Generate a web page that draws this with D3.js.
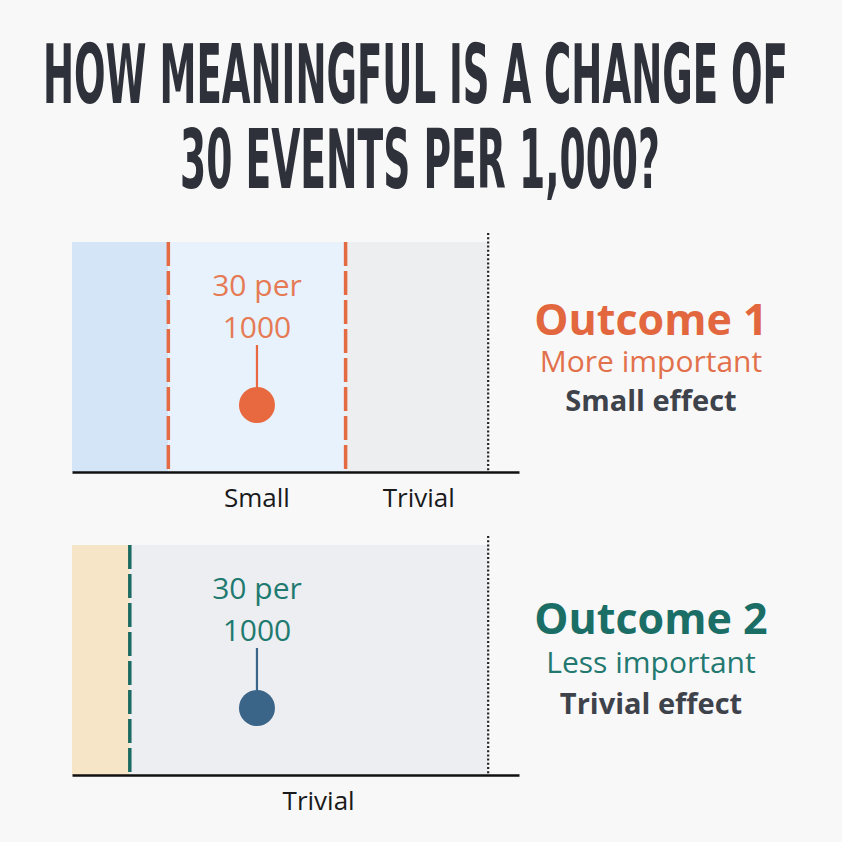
<!DOCTYPE html>
<html>
<head>
<meta charset="utf-8">
<script src="https://cdn.jsdelivr.net/npm/d3@7"></script>
<style>
html,body{margin:0;padding:0;background:#f8f8f9;}
svg{display:block;}
</style>
</head>
<body>
<div id="chart"></div>
<script>
// ---- data ----
const titleLines = ["HOW MEANINGFUL IS A CHANGE OF", "30 EVENTS PER 1,000?"];
const outcomes = ["Outcome 1", "Outcome 2"];
const importance = ["More important", "Less important"];
const effectLabels = ["Small effect", "Trivial effect"];
const estimates = [30, 30];                 // events per 1,000
const pointLabel = ["30 per", "1000"];
// zone boundaries (events per 1,000), from left (large) to right (0)
const zoneBreaks = [[54, 41.5, 18.5, 0], [54, 46.5, 0]];
const zoneNames = [["", "Small", "Trivial"], ["", "Trivial"]];
const zoneLabelAt = [[null, 30, 9], [null, 22]];
const domainX = [54, -4];

// ---- styles ----
const W = 842, H = 842;
const palettes = [
  {zones: ["#d3e5f6", "#e8f2fc", "#edeef0"], dash: "#e46a44", dot: "#e8693f", text: "#e57a55", head: "#e2673f", sub: "#e2714b"},
  {zones: ["#f6e6c7", "#edeef1"], dash: "#1c6b63", dot: "#3b6489", text: "#1f7a70", head: "#1b6e66", sub: "#237870"}
];
const panels = [{top: 242, bottom: 472, rightY: [335, 372, 411]}, {top: 545, bottom: 775, rightY: [634, 673, 714]}];

const svg = d3.select("#chart").append("svg").attr("width", W).attr("height", H);
svg.append("rect").attr("width", W).attr("height", H).attr("fill", "#f8f8f9");

// title (condensed by compressing the glyphs horizontally)
const titleSpecs = [{x: 43, w: 745, y: 103}, {x: 180, w: 480, y: 188}];
titleLines.forEach((t, i) => {
  const el = svg.append("text")
    .attr("font-family", "'DejaVu Sans Condensed','DejaVu Sans',sans-serif")
    .attr("font-weight", "bold").attr("font-size", 72)
    .attr("fill", "#2e3139").text(t);
  const w0 = el.node().getComputedTextLength();
  el.attr("transform", `translate(${titleSpecs[i].x},${titleSpecs[i].y}) scale(${titleSpecs[i].w / w0},1.15)`);
});

const x = d3.scaleLinear().domain(domainX).range([72, 519]);
const font = "'Open Sans',sans-serif";

panels.forEach((p, k) => {
  const g = svg.append("g");
  const pal = palettes[k];
  const br = zoneBreaks[k];
  // zones
  for (let i = 0; i < br.length - 1; i++) {
    g.append("rect")
      .attr("x", x(br[i])).attr("y", p.top)
      .attr("width", x(br[i + 1]) - x(br[i])).attr("height", p.bottom - p.top)
      .attr("fill", pal.zones[i]);
  }
  // dashed boundaries
  br.slice(1, -1).forEach(b => {
    g.append("line")
      .attr("x1", x(b)).attr("x2", x(b)).attr("y1", p.top).attr("y2", p.bottom)
      .attr("stroke", pal.dash).attr("stroke-width", 3.5).attr("stroke-dasharray", "24,5");
  });
  // dotted null line
  g.append("line")
    .attr("x1", x(0)).attr("x2", x(0)).attr("y1", p.top - 9).attr("y2", p.bottom)
    .attr("stroke", "#222").attr("stroke-width", 2.2).attr("stroke-dasharray", "2,2.2");
  // axis
  const axis = d3.axisBottom(x).tickValues([]).tickSize(0).tickSizeOuter(0);
  const ag = g.append("g").attr("transform", `translate(0,${p.bottom})`).call(axis);
  ag.select(".domain").attr("stroke", "#111").attr("stroke-width", 2.5);
  // zone labels
  zoneNames[k].forEach((n, i) => {
    if (!n) return;
    g.append("text").attr("x", x(zoneLabelAt[k][i])).attr("y", p.bottom + 35)
      .attr("text-anchor", "middle").attr("font-family", font)
      .attr("font-size", 26).attr("fill", "#1a1a1a").text(n);
  });
  // point estimate
  const cx = x(estimates[k]);
  const cy = p.top + 163;
  g.append("line").attr("x1", cx).attr("x2", cx).attr("y1", p.top + 103).attr("y2", cy)
    .attr("stroke", pal.dot).attr("stroke-width", 2.2);
  g.append("circle").attr("cx", cx).attr("cy", cy).attr("r", 18).attr("fill", pal.dot);
  pointLabel.forEach((t, i) => {
    g.append("text").attr("x", cx).attr("y", p.top + 54 + i * 42)
      .attr("text-anchor", "middle").attr("font-family", font)
      .attr("font-size", 30).attr("fill", pal.text).text(t);
  });
  // right-hand labels
  const rx = 651;
  g.append("text").attr("x", rx).attr("y", p.rightY[0]).attr("text-anchor", "middle")
    .attr("font-family", font).attr("font-weight", "bold")
    .attr("font-size", 43).attr("fill", pal.head).text(outcomes[k]);
  g.append("text").attr("x", rx).attr("y", p.rightY[1]).attr("text-anchor", "middle")
    .attr("font-family", font)
    .attr("font-size", 30).attr("fill", pal.sub).text(importance[k]);
  g.append("text").attr("x", rx).attr("y", p.rightY[2]).attr("text-anchor", "middle")
    .attr("font-family", font).attr("font-weight", "bold")
    .attr("font-size", 29).attr("fill", "#3d424b").text(effectLabels[k]);
});
</script>
</body>
</html>
